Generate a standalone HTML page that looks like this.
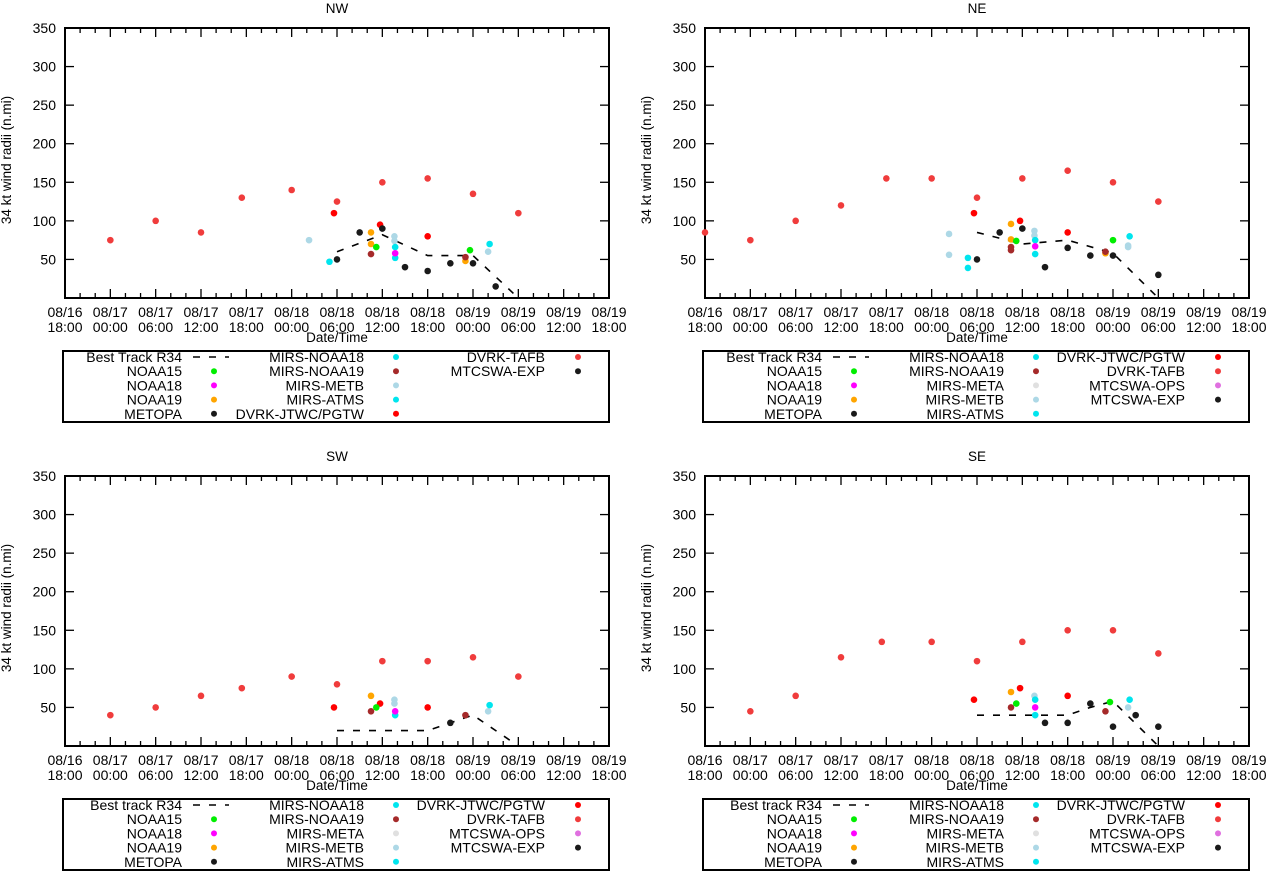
<!DOCTYPE html>
<html><head><meta charset="utf-8"><style>
html,body{margin:0;padding:0;background:#fff}
svg{display:block;font-family:"Liberation Sans",Arial,sans-serif}
</style></head><body>
<svg id="chart" width="1267" height="871" viewBox="0 0 1267 871"></svg>
<script>
// x: hours since 08/16 18:00, y: 34 kt wind radii (n.mi)
const xTickLabels = ["08/16|18:00","08/17|00:00","08/17|06:00","08/17|12:00","08/17|18:00","08/18|00:00","08/18|06:00","08/18|12:00","08/18|18:00","08/19|00:00","08/19|06:00","08/19|12:00","08/19|18:00"];
const yTicks = [50,100,150,200,250,300,350];
const panelNames = ["NW","NE","SW","SE"];

// NW
const nwBestH = [36,42,48,54,60], nwBestV = [60,82,55,55,0];
const nwTafbH = [6,12,18,23.4,30,36,42,48,54,60], nwTafbV = [75,100,85,130,140,125,150,155,135,110];
const nwJtwcH = [35.6,41.7,48], nwJtwcV = [110,95,80];
const nwMetopaH = [36,39,42,45,48,51,54,57], nwMetopaV = [50,85,90,40,35,45,45,15];
const nwN19H = [40.5,40.5,53], nwN19V = [85,70,48];
const nwN15H = [41.2,53.6], nwN15V = [66,62];
const nwMn19H = [40.5,53], nwMn19V = [57,53];
const nwN18H = [43.7], nwN18V = [58];
const nwCyanH = [35,43.7,43.7,56.2], nwCyanV = [47,66,52,70];
const nwMetbH = [32.3,43.6,43.6,56], nwMetbV = [75,80,74,60];

// NE
const neBestH = [36,42,48,54,60], neBestV = [85,70,75,58,0];
const neTafbH = [0,6,12,18,24,30,36,42,48,54,60], neTafbV = [85,75,100,120,155,155,130,155,165,150,125];
const neJtwcH = [35.6,41.7,48], neJtwcV = [110,100,85];
const neMetopaH = [36,39,42,45,48,51,54,60], neMetopaV = [50,85,90,40,65,55,55,30];
const neN19H = [40.5,40.5,53], neN19V = [96,76,58];
const neN15H = [41.2,54], neN15V = [74,75];
const neMn19H = [40.5,40.5,53], neMn19V = [66,62,60];
const neN18H = [43.7], neN18V = [67];
const neCyanH = [34.8,34.8,43.7,43.7,56.2], neCyanV = [52,39,75,57,80];
const neMetbH = [32.3,32.3,43.6,43.6,56,56], neMetbV = [83,56,87,81,68,66];

// SW
const swBestH = [36,48,51,54,60], swBestV = [20,20,30,40,0];
const swTafbH = [6,12,18,23.4,30,36,42,48,54,60], swTafbV = [40,50,65,75,90,80,110,110,115,90];
const swJtwcH = [35.6,41.7,48], swJtwcV = [50,55,50];
const swMetopaH = [51], swMetopaV = [30];
const swN19H = [40.5], swN19V = [65];
const swN15H = [41.2], swN15V = [50];
const swMn19H = [40.5,53], swMn19V = [45,40];
const swN18H = [43.7], swN18V = [45];
const swCyanH = [43.7,56.2], swCyanV = [40,53];
const swMetbH = [43.6,43.6,56], swMetbV = [60,55,45];

// SE
const seBestH = [36,48,51,54,60], seBestV = [40,40,50,58,0];
const seTafbH = [6,12,18,23.4,30,36,42,48,54,60], seTafbV = [45,65,115,135,135,110,135,150,150,120];
const seJtwcH = [35.6,41.7,48], seJtwcV = [60,75,65];
const seMetopaH = [45,48,51,54,57,60], seMetopaV = [30,30,55,25,40,25];
const seN19H = [40.5], seN19V = [70];
const seN15H = [41.2,53.6], seN15V = [55,57];
const seMn19H = [40.5,53], seMn19V = [50,45];
const seN18H = [43.7], seN18V = [50];
const seCyanH = [43.7,43.7,56.2], seCyanV = [60,40,60];
const seMetbH = [43.6,56], seMetbV = [65,50];

const C = {tafb:"#f03c3c",jtwc:"#ff0000",metopa:"#1a1a1a",n19:"#ffa500",n15:"#00ee00",mn19:"#a52a2a",n18:"#ff00ff",cyan:"#00e5ee",metb:"#add8e6",meta:"#e0e0e0",ops:"#e070e0"};

const svg = document.getElementById('chart');
const NS = "http://www.w3.org/2000/svg";
function mk(tag, attrs, parent){const e=document.createElementNS(NS,tag);for(const k in attrs)e.setAttribute(k,attrs[k]);(parent||svg).appendChild(e);return e;}

const panels = [
 {x0:65,y0:28,name:"NW",best:[nwBestH,nwBestV],series:[["tafb",nwTafbH,nwTafbV],["jtwc",nwJtwcH,nwJtwcV],["metb",nwMetbH,nwMetbV],["cyan",nwCyanH,nwCyanV],["metopa",nwMetopaH,nwMetopaV],["n19",nwN19H,nwN19V],["mn19",nwMn19H,nwMn19V],["n15",nwN15H,nwN15V],["n18",nwN18H,nwN18V]],
  legend:[["Best Track R34","dash"],["NOAA15","n15"],["NOAA18","n18"],["NOAA19","n19"],["METOPA","metopa"],["MIRS-NOAA18","cyan"],["MIRS-NOAA19","mn19"],["MIRS-METB","metb"],["MIRS-ATMS","cyan"],["DVRK-JTWC/PGTW","jtwc"],["DVRK-TAFB","tafb"],["MTCSWA-EXP","metopa"]]},
 {x0:705,y0:28,name:"NE",best:[neBestH,neBestV],series:[["tafb",neTafbH,neTafbV],["jtwc",neJtwcH,neJtwcV],["metb",neMetbH,neMetbV],["cyan",neCyanH,neCyanV],["metopa",neMetopaH,neMetopaV],["n19",neN19H,neN19V],["mn19",neMn19H,neMn19V],["n15",neN15H,neN15V],["n18",neN18H,neN18V]],
  legend:null},
 {x0:65,y0:476,name:"SW",best:[swBestH,swBestV],series:[["tafb",swTafbH,swTafbV],["jtwc",swJtwcH,swJtwcV],["metb",swMetbH,swMetbV],["cyan",swCyanH,swCyanV],["metopa",swMetopaH,swMetopaV],["n19",swN19H,swN19V],["mn19",swMn19H,swMn19V],["n15",swN15H,swN15V],["n18",swN18H,swN18V]],
  legend:null},
 {x0:705,y0:476,name:"SE",best:[seBestH,seBestV],series:[["tafb",seTafbH,seTafbV],["jtwc",seJtwcH,seJtwcV],["metb",seMetbH,seMetbV],["cyan",seCyanH,seCyanV],["metopa",seMetopaH,seMetopaV],["n19",seN19H,seN19V],["mn19",seMn19H,seMn19V],["n15",seN15H,seN15V],["n18",seN18H,seN18V]],
  legend:null}
];
const longLegend = (bt)=>[[bt,"dash"],["NOAA15","n15"],["NOAA18","n18"],["NOAA19","n19"],["METOPA","metopa"],["MIRS-NOAA18","cyan"],["MIRS-NOAA19","mn19"],["MIRS-META","meta"],["MIRS-METB","metb"],["MIRS-ATMS","cyan"],["DVRK-JTWC/PGTW","jtwc"],["DVRK-TAFB","tafb"],["MTCSWA-OPS","ops"],["MTCSWA-EXP","metopa"]];
panels[1].legend=longLegend("Best Track R34");
panels[2].legend=longLegend("Best track R34");
panels[3].legend=longLegend("Best track R34");

const W=544,H=270,HOURS=72,FS=14;
panels.forEach(p=>{
  const g=mk('g',{});
  
  
  const xs=h=>p.x0+h/HOURS*W;
  const ys=v=>p.y0+H-v/350*H;
  const t=mk('text',{x:p.x0+W/2,y:p.y0-15,'text-anchor':'middle','font-size':13.5},g);t.textContent=p.name;
  
  for(let h=0;h<=HOURS;h+=2){
    const major=h%6===0,L=major?9:5,x=xs(h);
    mk('line',{x1:x,y1:p.y0+H,x2:x,y2:p.y0+H-L,stroke:'#000','stroke-width':1.3},g);
    mk('line',{x1:x,y1:p.y0,x2:x,y2:p.y0+L,stroke:'#000','stroke-width':1.3},g);
  }
  xTickLabels.forEach((lab,i)=>{
    const [a,b]=lab.split('|');const x=xs(i*6);
    const t1=mk('text',{x:x,y:p.y0+H+19,'text-anchor':'middle','font-size':FS},g);t1.textContent=a;
    const t2=mk('text',{x:x,y:p.y0+H+34,'text-anchor':'middle','font-size':FS},g);t2.textContent=b;
    
  });
  yTicks.forEach(v=>{
    const y=ys(v);
    mk('line',{x1:p.x0,y1:y,x2:p.x0+9,y2:y,stroke:'#000','stroke-width':1.3},g);
    mk('line',{x1:p.x0+W,y1:y,x2:p.x0+W-9,y2:y,stroke:'#000','stroke-width':1.3},g);
    const t=mk('text',{x:p.x0-9,y:y+5,'text-anchor':'end','font-size':FS},g);t.textContent=v;
    
  });
  const fr=mk('rect',{x:p.x0,y:p.y0,width:W,height:H,fill:'none',stroke:'#000','stroke-width':2},g);
  
  const xt=mk('text',{x:p.x0+W/2,y:p.y0+H+44,'text-anchor':'middle','font-size':13.5},g);xt.textContent='Date/Time';
  
  const yt=mk('text',{x:0,y:0,'text-anchor':'middle','font-size':13.5,transform:`translate(${p.x0-54},${p.y0+H/2-3}) rotate(-90)`},g);yt.textContent='34 kt wind radii (n.mi)';
  
  const [bh,bv]=p.best;
  const pl=mk('polyline',{points:bh.map((h,i)=>xs(h)+','+ys(bv[i])).join(' '),fill:'none',stroke:'#000','stroke-width':1.6,'stroke-dasharray':'7,9'},g);
  
  p.series.forEach(([k,hs,vs])=>{
    hs.forEach((h,i)=>{
      const c=mk('circle',{cx:xs(h),cy:ys(vs[i]),r:3.3,fill:C[k]},g);
      
      
    });
  });
  const lx=p.x0-2,ly=p.y0+H+53,lw=W+2,lh=71;
  const lg=mk('g',{},g);
  
  mk('rect',{x:lx,y:ly,width:lw,height:lh,fill:'none',stroke:'#000','stroke-width':2},lg);
  const colText=[117,299,480],colMark=[149,331,513];
  p.legend.forEach((e,i)=>{
    const col=Math.floor(i/5),row=i%5;
    const y=ly+6+row*14.2;
    const t=mk('text',{x:p.x0+colText[col],y:y+5,'text-anchor':'end','font-size':FS},lg);t.textContent=e[0];
    
    if(e[1]==='dash'){
      mk('line',{x1:p.x0+colMark[col]-21,y1:y,x2:p.x0+colMark[col]+15,y2:y,stroke:'#000','stroke-width':1.6,'stroke-dasharray':'7,9'},lg);
    } else {
      mk('circle',{cx:p.x0+colMark[col],cy:y,r:3,fill:C[e[1]]},lg);
    }
  });
});
</script>
</body></html>
